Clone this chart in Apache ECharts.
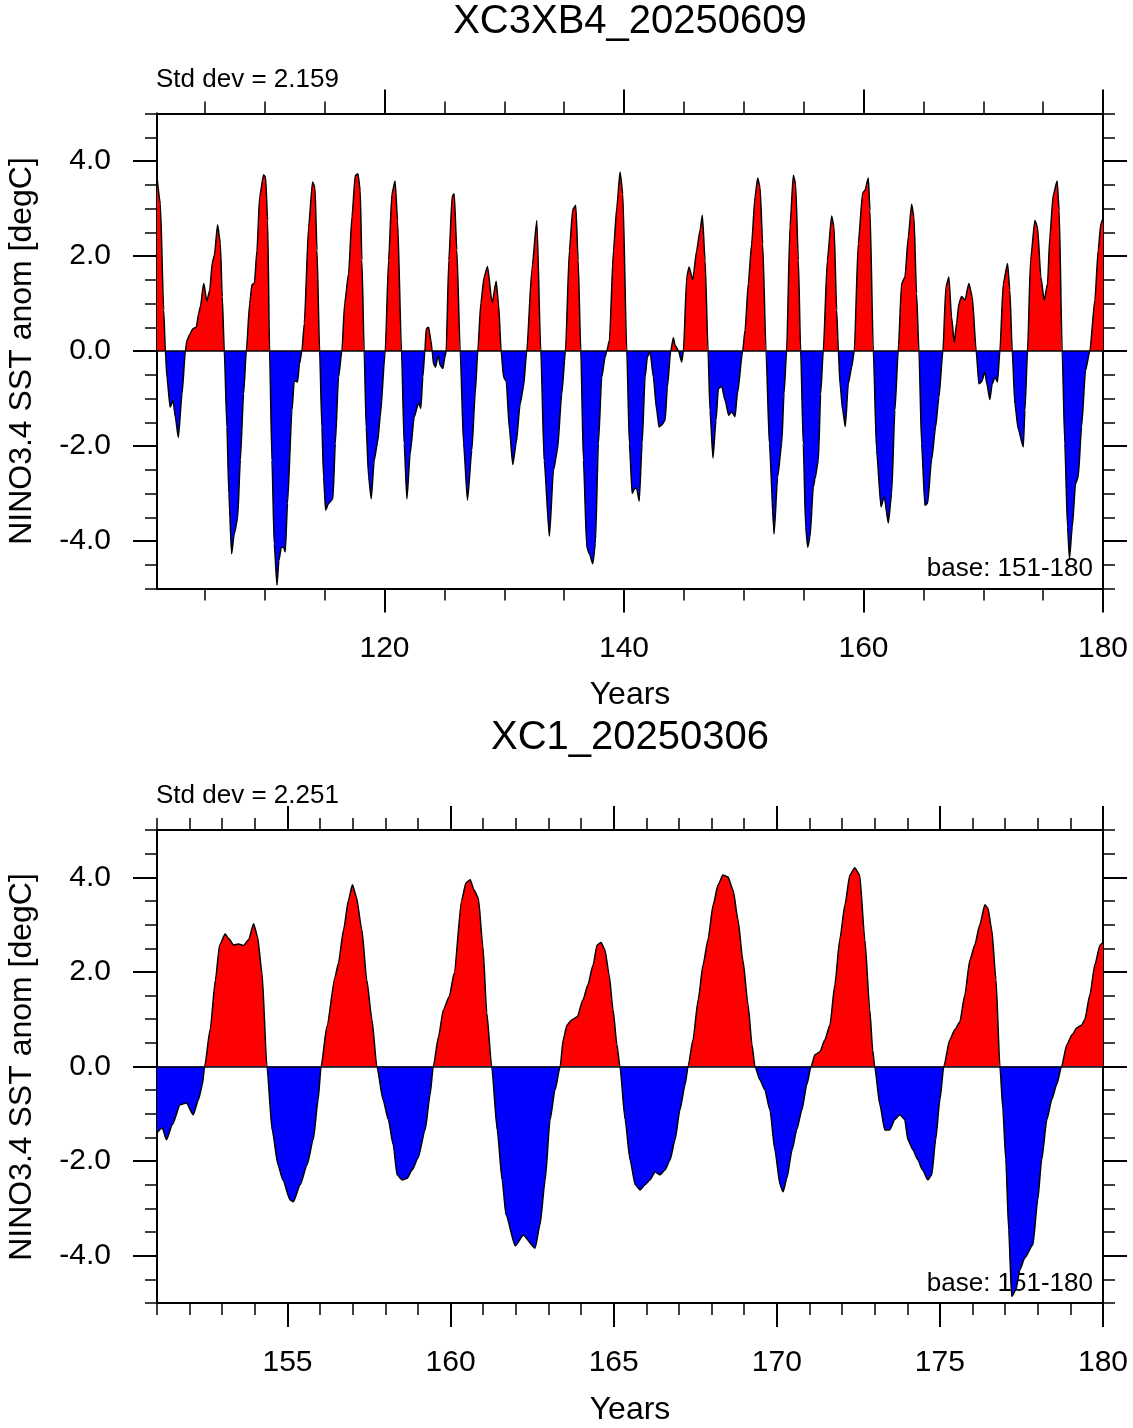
<!DOCTYPE html>
<html>
<head>
<meta charset="utf-8">
<script src="https://cdn.jsdelivr.net/npm/echarts@6/dist/echarts.min.js"></script>
<style>
html, body { margin: 0; padding: 0; background: #fff; }
#main { width: 1133px; height: 1428px; }
</style>
</head>
<body>
<div id="main"></div>
<script>
// top run: XC3XB4, years 101-180 (turning points only)
var topYears = [
  101.0, 101.28, 101.56, 101.7, 101.83, 102.1, 102.34, 102.53, 102.78, 103.09, 103.37, 103.5, 103.73, 104.0, 104.28,
  104.48, 104.62, 104.9, 105.17, 105.4, 105.62, 105.79, 106.06, 106.29, 106.45, 106.62, 106.84, 107.0, 107.23, 107.45,
  107.73, 107.96, 108.23, 108.46, 108.74, 108.93, 109.13, 109.35, 109.57, 109.9, 110.07, 110.24, 110.4, 110.6, 110.79,
  111.02, 111.18, 111.38, 111.57, 111.71, 111.9, 112.27, 112.46, 112.74, 112.9, 113.1, 113.3, 113.66, 113.99, 114.19,
  114.36, 114.58, 114.77, 114.91, 115.08, 115.33, 115.69, 115.89, 116.16, 116.44, 116.67, 117.0, 117.28, 117.56, 117.78,
  117.97, 118.11, 118.3, 118.47, 118.67, 118.89, 119.14, 119.42, 119.64, 120.06, 120.34, 120.62, 120.88, 121.09, 121.42,
  121.64, 121.87, 122.14, 122.48, 122.84, 123.03, 123.2, 123.37, 123.48, 123.68, 123.87, 123.98, 124.09, 124.26, 124.48,
  124.65, 124.87, 125.04, 125.15, 125.37, 125.65, 125.82, 126.04, 126.32, 126.6, 126.93, 127.29, 127.57, 127.79, 128.04,
  128.32, 128.6, 128.99, 129.32, 129.52, 129.74, 129.94, 130.16, 130.44, 130.71, 130.99, 131.33, 131.6, 131.88, 132.3,
  132.72, 133.05, 133.33, 133.77, 134.11, 134.44, 134.8, 135.11, 135.44, 135.72, 135.97, 136.17, 136.39, 136.61, 136.89,
  137.11, 137.39, 137.61, 137.86, 138.14, 138.42, 138.56, 138.78, 139.12, 139.4, 139.67, 139.9, 140.23, 140.45, 140.68,
  140.92, 141.06, 141.27, 141.51, 141.76, 141.95, 142.18, 142.45, 142.73, 142.93, 143.15, 143.43, 143.62, 143.9, 144.12,
  144.26, 144.54, 144.82, 144.96, 145.24, 145.43, 145.74, 146.07, 146.35, 146.54, 146.77, 147.02, 147.18, 147.43, 147.68,
  147.88, 148.16, 148.44, 148.74, 148.99, 149.27, 149.47, 149.91, 150.11, 150.38, 150.66, 150.94, 151.16, 151.36, 151.58,
  151.86, 152.14, 152.53, 152.83, 153.17, 153.36, 153.58, 153.86, 154.14, 154.33, 154.56, 154.75, 154.97, 155.17, 155.34,
  155.53, 155.81, 155.95, 156.23, 156.42, 156.64, 156.98, 157.34, 157.54, 157.76, 157.9, 158.04, 158.26, 158.48, 158.73,
  159.01, 159.23, 159.56, 159.93, 160.12, 160.4, 160.54, 160.82, 161.09, 161.46, 161.73, 162.07, 162.35, 162.62, 162.9,
  163.18, 163.46, 163.74, 164.02, 164.21, 164.43, 164.63, 164.85, 165.13, 165.35, 165.68, 166.02, 166.3, 166.63, 166.88,
  167.13, 167.35, 167.58, 167.77, 167.97, 168.19, 168.47, 168.8, 169.08, 169.41, 169.64, 169.86, 170.14, 170.3, 170.55,
  170.75, 170.97, 171.19, 171.39, 171.67, 172.03, 172.22, 172.42, 172.64, 172.92, 173.34, 173.48, 173.7, 173.95, 174.31,
  174.53, 174.81, 175.09, 175.37, 175.56, 175.84, 176.17, 176.34, 176.59, 176.81, 177.04, 177.2, 177.43, 177.71, 177.93,
  178.21, 178.54, 178.9, 179.32, 179.6, 179.82, 180.0
];
var topAnom = [
  3.66, 3.1, 0.86, 0, -0.55, -1.18, -1.04, -1.39, -1.82, -0.9, 0, 0.22, 0.35, 0.47, 0.5,
  0.79, 0.93, 1.42, 1.05, 1.28, 1.87, 2.01, 2.66, 2.26, 1.14, 0, -1.6, -3.0, -4.27, -3.85,
  -3.53, -2.3, -0.9, 0, 1.0, 1.4, 1.42, 2.12, 3.24, 3.71, 3.66, 2.75, 0, -2.3, -4.06,
  -4.93, -4.41, -4.13, -4.13, -4.23, -3.21, -1.25, -0.63, -0.65, -0.27, 0, 0.58, 2.61, 3.56, 3.45,
  2.12, 0, -1.6, -2.65, -3.35, -3.21, -3.11, -1.95, -0.55, 0, 1.0, 1.63, 2.82, 3.7, 3.73,
  3.38, 1.91, 0, -1.6, -2.65, -3.11, -2.3, -1.92, -1.39, 0, 1.91, 3.31, 3.58, 2.75, 0,
  -1.95, -3.11, -2.16, -1.39, -1.09, -1.21, -0.55, 0, 0.47, 0.5, 0.22, 0, -0.27, -0.34, -0.09,
  -0.3, -0.37, -0.13, 0, 1.91, 3.26, 3.31, 2.12, 0, -1.95, -3.14, -2.09, -0.9, 0, 1.0,
  1.56, 1.78, 1.01, 1.47, 1.0, 0, -0.55, -0.63, -1.67, -2.39, -1.95, -1.11, -0.76, 0, 1.7,
  2.75, 0, -2.3, -3.9, -2.51, -2.09, -0.9, 0, 2.12, 2.98, 3.07, 1.91, 0, -2.3, -4.13,
  -4.27, -4.48, -4.06, -1.95, -0.55, -0.13, 0, 0.22, 2.12, 3.03, 3.77, 3.31, 0, -1.95, -3.0,
  -2.88, -2.9, -3.16, -1.95, -0.55, -0.13, -0.02, -0.55, -1.25, -1.6, -1.56, -1.46, -0.76, 0, 0.28,
  0.12, 0.01, -0.23, 0, 1.56, 1.77, 1.5, 2.12, 2.54, 2.86, 1.91, 0, -1.25, -2.25, -1.46,
  -0.79, -0.74, -1.04, -1.35, -1.28, -1.38, -0.9, 0, 0.44, 1.42, 2.26, 3.24, 3.64, 3.45, 2.26,
  0, -1.95, -3.85, -2.65, -1.95, -0.9, 0, 2.61, 3.7, 3.52, 1.91, 0, -1.95, -3.71, -4.13,
  -3.92, -2.86, -2.69, -2.3, -0.9, 0, 1.91, 2.84, 2.61, 0.86, 0, -0.69, -1.25, -1.59, -0.69,
  -0.34, 0, 2.26, 3.33, 3.38, 3.64, 2.96, 0, -2.09, -3.28, -3.07, -3.62, -3.0, -1.25, 0,
  1.42, 1.56, 2.4, 3.09, 2.82, 1.21, 0, -1.95, -3.25, -3.21, -2.3, -1.6, -0.97, 0, 1.35,
  1.56, 0.72, 0.18, 0.58, 1.0, 1.15, 1.07, 1.42, 1.14, 0, -0.69, -0.65, -0.44, -0.69, -1.02,
  -0.69, -0.55, -0.65, 0, 1.42, 1.84, 1.28, 0, -1.11, -1.64, -2.02, -1.25, 0, 1.91, 2.75,
  2.61, 1.56, 1.07, 1.42, 2.4, 3.28, 3.58, 2.96, 0, -1.95, -3.71, -4.37, -3.71, -2.79, -2.65,
  -1.6, -0.41, 0, 1.07, 2.12, 2.68, 2.79
];

// bottom run: XC1, years 151-180
var botYears = [
  151.0, 151.16, 151.29, 151.47, 151.71, 151.9, 152.11, 152.27, 152.39, 152.46, 152.63, 152.79, 152.92, 153.09, 153.19,
  153.35, 153.5, 153.65, 153.81, 153.96, 154.08, 154.22, 154.37, 154.53, 154.71, 154.86, 155.08, 155.18, 155.39, 155.6,
  155.79, 155.94, 156.03, 156.21, 156.46, 156.56, 156.72, 156.87, 156.99, 157.11, 157.28, 157.43, 157.59, 157.74, 157.93,
  158.09, 158.24, 158.36, 158.52, 158.67, 158.82, 159.0, 159.22, 159.37, 159.47, 159.63, 159.78, 159.96, 160.11, 160.34,
  160.47, 160.6, 160.72, 160.85, 160.99, 161.11, 161.26, 161.43, 161.58, 161.7, 161.98, 162.23, 162.59, 162.74, 162.9,
  163.05, 163.2, 163.36, 163.45, 163.57, 163.72, 163.88, 164.06, 164.21, 164.37, 164.49, 164.61, 164.73, 164.86, 164.98,
  165.1, 165.19, 165.35, 165.5, 165.66, 165.81, 165.96, 166.11, 166.27, 166.42, 166.57, 166.73, 166.88, 167.03, 167.19,
  167.28, 167.43, 167.59, 167.74, 167.89, 168.05, 168.2, 168.35, 168.5, 168.66, 168.81, 168.96, 169.12, 169.24, 169.33,
  169.48, 169.63, 169.79, 169.94, 170.1, 170.19, 170.31, 170.47, 170.61, 170.77, 170.92, 171.05, 171.17, 171.32, 171.47,
  171.63, 171.78, 171.93, 172.09, 172.24, 172.39, 172.54, 172.7, 172.85, 172.94, 173.0, 173.16, 173.31, 173.46, 173.62,
  173.77, 173.92, 174.02, 174.17, 174.32, 174.47, 174.63, 174.75, 174.87, 175.0, 175.12, 175.3, 175.46, 175.61, 175.76,
  175.92, 176.07, 176.22, 176.38, 176.47, 176.59, 176.72, 176.84, 176.93, 177.02, 177.11, 177.2, 177.33, 177.45, 177.6,
  177.85, 178.0, 178.12, 178.28, 178.43, 178.58, 178.73, 178.89, 179.05, 179.2, 179.35, 179.44, 179.6, 179.75, 179.91,
  180.0
];
var botAnom = [
  -1.4, -1.3, -1.55, -1.23, -0.81, -0.77, -1.02, -0.7, -0.39, 0, 0.78, 1.83, 2.57, 2.8, 2.71,
  2.57, 2.59, 2.56, 2.68, 3.02, 2.75, 1.97, 0, -1.34, -2.08, -2.4, -2.82, -2.86, -2.5, -2.08,
  -1.55, -0.7, 0, 0.85, 1.9, 2.18, 2.89, 3.52, 3.84, 3.59, 2.89, 1.83, 0.99, 0, -0.7,
  -1.12, -1.65, -2.29, -2.4, -2.36, -2.19, -1.94, -1.34, -0.6, 0, 0.63, 1.2, 1.48, 1.97, 3.52,
  3.88, 3.95, 3.73, 3.56, 2.54, 1.13, 0, -1.34, -2.4, -3.14, -3.79, -3.57, -3.84, -3.35, -2.4,
  -1.12, -0.5, 0, 0.56, 0.88, 0.99, 1.05, 1.41, 1.73, 2.15, 2.57, 2.62, 2.47, 1.94, 1.2,
  0.46, 0, -1.12, -1.97, -2.5, -2.61, -2.5, -2.4, -2.23, -2.29, -2.19, -1.97, -1.55, -0.92, -0.38,
  0, 0.56, 1.41, 2.15, 2.68, 3.42, 3.84, 4.05, 4.01, 3.73, 3.1, 2.25, 1.3, 0.46, 0,
  -0.28, -0.49, -0.92, -1.76, -2.5, -2.65, -2.36, -1.76, -1.34, -0.92, -0.38, 0, 0.25, 0.31, 0.56,
  0.88, 1.73, 2.68, 3.42, 4.05, 4.2, 4.05, 2.68, 1.2, 0.35, 0, -0.81, -1.34, -1.34, -1.12,
  -1.02, -1.12, -1.55, -1.76, -1.97, -2.19, -2.4, -2.29, -1.55, -0.7, 0, 0.56, 0.78, 0.94, 1.5,
  2.25, 2.57, 2.99, 3.42, 3.35, 2.89, 1.83, 0, -0.9, -1.97, -3.46, -4.86, -4.72, -4.3, -4.05,
  -3.77, -2.82, -1.97, -1.12, -0.7, -0.38, 0, 0.46, 0.67, 0.82, 0.88, 0.99, 1.52, 2.15, 2.57,
  2.62
];

// tick positions
var topMajor = [120, 140, 160, 180];
var topMinor = [105, 110, 115, 125, 130, 135, 145, 150, 155, 165, 170, 175];
var botMajor = [155, 160, 165, 170, 175, 180];
var botMinor = [151, 152, 153, 154, 156, 157, 158, 159, 161, 162, 163, 164, 166, 167, 168, 169,
  171, 172, 173, 174, 176, 177, 178, 179];
var yMajor = [-4, -2, 0, 2, 4];
var yMinor = [-5, -4.5, -3.5, -3, -2.5, -1.5, -1, -0.5, 0.5, 1, 1.5, 2.5, 3, 3.5, 4.5, 5];

var FONT = '"Liberation Sans", Arial, Helvetica, sans-serif';

function pairs(xs, ys) {
  var out = [];
  for (var i = 0; i < xs.length; i++) out.push([xs[i], ys[i]]);
  return out;
}

// one axis = one set of ticks; major and minor ticks are two overlapping axes
function axisX(grid, min, max, pos, ticks, len, withLabel) {
  return {
    type: 'value', gridIndex: grid, min: min, max: max, position: pos,
    axisLine: { show: true, onZero: false, lineStyle: { color: '#000', width: 2 } },
    axisTick: { show: true, inside: false, length: len, customValues: ticks,
      lineStyle: { color: '#000', width: len > 15 ? 2 : 1.5 } },
    axisLabel: withLabel ? { show: true, customValues: ticks, margin: 45, color: '#000',
      fontSize: 30, fontFamily: FONT } : { show: false },
    splitLine: { show: false }
  };
}

function axisY(grid, pos, ticks, len, withLabel) {
  return {
    type: 'value', gridIndex: grid, min: -5, max: 5, position: pos,
    axisLine: { show: true, onZero: false, lineStyle: { color: '#000', width: 2 } },
    axisTick: { show: true, inside: false, length: len, customValues: ticks,
      lineStyle: { color: '#000', width: len > 15 ? 2 : 1.5 } },
    axisLabel: withLabel ? { show: true, customValues: ticks, margin: 46, color: '#000',
      fontSize: 30, fontFamily: FONT,
      formatter: function (v) { return v.toFixed(1); } } : { show: false },
    splitLine: { show: false }
  };
}

function txt(x, y, s, size, align, rot) {
  return {
    type: 'text', x: x, y: y, rotation: rot || 0, silent: true,
    style: { text: s, font: size + 'px ' + FONT, fill: '#000',
      textAlign: align, textVerticalAlign: 'middle' }
  };
}

function anomSeries(xi, yi, xs, ys) {
  return {
    type: 'line', xAxisIndex: xi, yAxisIndex: yi,
    data: pairs(xs, ys),
    showSymbol: false, smooth: 0.2, smoothMonotone: 'x',
    lineStyle: { color: '#000', width: 1.5 },
    areaStyle: { opacity: 1, origin: 0 },
    markLine: {
      silent: true, symbol: 'none', label: { show: false },
      lineStyle: { color: '#000', type: 'solid', width: 1.5 },
      data: [{ yAxis: 0 }]
    }
  };
}

// sign colouring: finite pieces so the visual gradient gets real stops at 0
function signMap(idx) {
  return {
    type: 'piecewise', show: false, dimension: 1, seriesIndex: idx,
    pieces: [
      { gt: -100, lte: 0, color: '#0000ff' },
      { gt: 0, lte: 100, color: '#ff0000' }
    ]
  };
}

var chart = echarts.init(document.getElementById('main'), null, { renderer: 'canvas' });

var option = {
  backgroundColor: '#fff',
  animation: false,
  grid: [
    { left: 157, top: 113.5, width: 946, height: 475, outerBoundsMode: 'none' },
    { left: 157, top: 830, width: 946, height: 473, outerBoundsMode: 'none' }
  ],
  xAxis: [
    axisX(0, 101, 180, 'bottom', topMajor, 24, true),
    axisX(0, 101, 180, 'bottom', topMinor, 12, false),
    axisX(0, 101, 180, 'top', topMajor, 24, false),
    axisX(0, 101, 180, 'top', topMinor, 12, false),
    axisX(1, 151, 180, 'bottom', botMajor, 24, true),
    axisX(1, 151, 180, 'bottom', botMinor, 12, false),
    axisX(1, 151, 180, 'top', botMajor, 24, false),
    axisX(1, 151, 180, 'top', botMinor, 12, false)
  ],
  yAxis: [
    axisY(0, 'left', yMajor, 24, true),
    axisY(0, 'left', yMinor, 12, false),
    axisY(0, 'right', yMajor, 24, false),
    axisY(0, 'right', yMinor, 12, false),
    axisY(1, 'left', yMajor, 24, true),
    axisY(1, 'left', yMinor, 12, false),
    axisY(1, 'right', yMajor, 24, false),
    axisY(1, 'right', yMinor, 12, false)
  ],
  visualMap: [signMap(0), signMap(1)],
  series: [
    anomSeries(0, 0, topYears, topAnom),
    anomSeries(4, 4, botYears, botAnom)
  ],
  graphic: [
    txt(630, 22, 'XC3XB4_20250609', 40, 'center'),
    txt(156, 80, 'Std dev = 2.159', 26, 'left'),
    txt(1093, 569, 'base: 151-180', 26, 'right'),
    txt(630, 695, 'Years', 32, 'center'),
    txt(22, 351, 'NINO3.4 SST anom [degC]', 32, 'center', Math.PI / 2),
    txt(630, 738, 'XC1_20250306', 40, 'center'),
    txt(156, 796, 'Std dev = 2.251', 26, 'left'),
    txt(1093, 1284, 'base: 151-180', 26, 'right'),
    txt(630, 1410, 'Years', 32, 'center'),
    txt(22, 1067, 'NINO3.4 SST anom [degC]', 32, 'center', Math.PI / 2)
  ]
};

chart.setOption(option);
</script>
</body>
</html>
